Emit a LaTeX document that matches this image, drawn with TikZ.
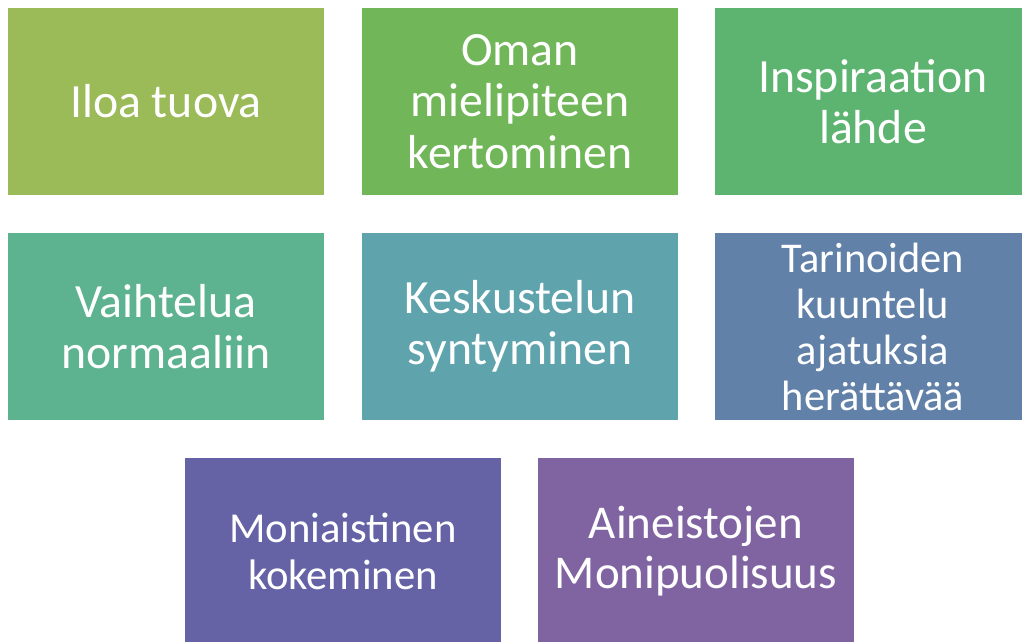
\documentclass[tikz,border=0pt]{standalone}
\usepackage{fontspec}
\setmainfont{Carlito}
\usetikzlibrary{positioning}

\definecolor{tileA}{HTML}{9BBB59}
\definecolor{tileB}{HTML}{72B65A}
\definecolor{tileC}{HTML}{5DB470}
\definecolor{tileD}{HTML}{5DB28F}
\definecolor{tileE}{HTML}{5FA3AD}
\definecolor{tileF}{HTML}{6181A9}
\definecolor{tileG}{HTML}{6562A6}
\definecolor{tileH}{HTML}{8064A2}

\tikzset{
  tile/.style={rectangle,inner sep=0pt,minimum width=237pt,
    minimum height=140.25pt,align=center,text=white,
    font=\fontsize{35.8}{38.5}\selectfont}
}

\begin{document}
\begin{tikzpicture}[x=0.75pt,y=-0.75pt]

          \useasboundingbox (0,0) rectangle (1022,642);
          \clip (0,0) rectangle (1022,642);

          % first row
          \node[tile,fill=tileA] (iloa) at (166,101.5) {Iloa tuova};
          \node[tile,fill=tileB] (oman) at (520,101.5) {Oman\\mielipiteen\\kertominen};
          \node[tile,fill=tileC] (inspiraatio) at (873,101.5) {Inspiraation\\lähde};

          % second row
          \node[tile,fill=tileD] (vaihtelu) at (166,326.5) {Vaihtelua\\normaaliin};
          \node[tile,fill=tileE] (keskustelu) at (520,326.5) {Keskustelun\\syntyminen};
          \node[tile,fill=tileF,font=\fontsize{31.8}{34.5}\selectfont]
              (tarinat) at (873,326.5) {Tarinoiden\\kuuntelu\\ajatuksia\\herättävää};

          % third row
          \node[tile,fill=tileG,font=\fontsize{32}{35.25}\selectfont]
              (moniaistinen) at (343,551.5) {Moniaistinen\\kokeminen};
          \node[tile,fill=tileH,font=\fontsize{35.25}{37.5}\selectfont]
              (aineistot) at (696,551.5) {Aineistojen\\Monipuolisuus};

        \end{tikzpicture}
\end{document}
